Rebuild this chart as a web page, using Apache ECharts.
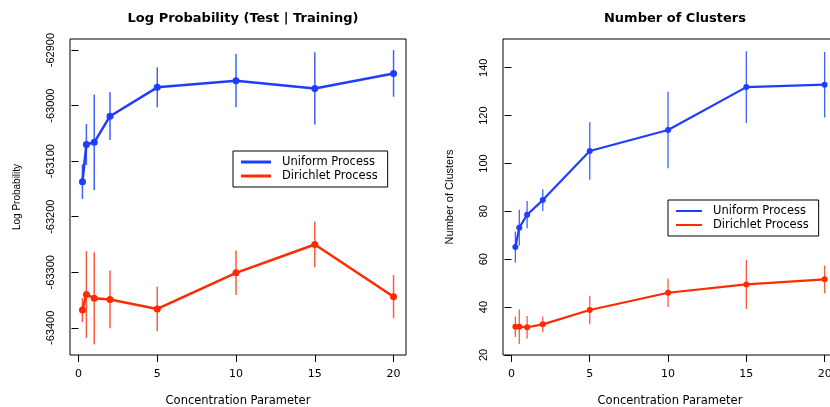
<!DOCTYPE html>
<html><head><meta charset="utf-8">
<script src="https://cdn.jsdelivr.net/npm/echarts@6/dist/echarts.min.js"></script>
<style>html,body{margin:0;padding:0;background:#fff}#c{width:830px;height:407px}</style>
</head><body><div id="c"></div>
<script>
var xs = [0.25, 0.5, 1, 2, 5, 10, 15, 20];
var xTicks = [0, 5, 10, 15, 20];
// Left panel: log probability (test | training)
var lpUniform = [-63137, -63070, -63066, -63019, -62967, -62955, -62969, -62942];
var lpUniformErr = [31, 37, 86, 43, 36, 48, 65, 42];
var lpDirichlet = [-63368, -63340, -63347, -63349, -63366, -63301, -63250, -63344];
var lpDirichletErr = [22, 78, 83, 52, 40, 40, 41, 39];
var lpTicks = [-63400, -63300, -63200, -63100, -63000, -62900];
// Right panel: number of clusters
var ncUniform = [65.1, 73.2, 78.6, 84.7, 105.2, 114.0, 131.9, 132.9];
var ncUniformErr = [6.5, 7.5, 5.7, 4.5, 12, 16, 15, 13.7];
var ncDirichlet = [31.8, 31.8, 31.6, 32.8, 38.8, 46.0, 49.5, 51.6];
var ncDirichletErr = [4.3, 7.2, 4.7, 3.3, 6, 6, 10.3, 5.8];
var ncTicks = [20, 40, 60, 80, 100, 120, 140];

var BLUE = '#1f3dff', BLUE_E = '#4060ff', RED = '#ff2a00', RED_E = '#ff5a40';
var FONT = 'Liberation Sans, Arial, sans-serif';
var WIDE = 'DejaVu Sans, Liberation Sans, sans-serif';

function pts(v){ return xs.map(function(x,i){ return [x, v[i]]; }); }
function errData(v, e){ return xs.map(function(x,i){ return [x, v[i]-e[i], v[i]+e[i]]; }); }
function errSeries(v, e, color, gi, w){
  return {
    type: 'custom', xAxisIndex: gi, yAxisIndex: gi, silent: true, z: 1,
    data: errData(v, e),
    renderItem: function(params, api){
      var a = api.coord([api.value(0), api.value(1)]);
      var b = api.coord([api.value(0), api.value(2)]);
      return { type: 'line', shape: {x1:a[0], y1:a[1], x2:b[0], y2:b[1]},
               style: { stroke: color, lineWidth: w } };
    }
  };
}
function lineSeries(name, v, color, gi, w, s){
  return { name: name, type: 'line', xAxisIndex: gi, yAxisIndex: gi, data: pts(v),
    symbol: 'circle', symbolSize: s, showSymbol: true, z: 3, animation: false,
    lineStyle: { color: color, width: w }, itemStyle: { color: color } };
}
function xAxis(gi){
  return { gridIndex: gi, type: 'value', min: -0.54, max: 20.79,
    name: 'Concentration Parameter', nameLocation: 'middle', nameGap: 40,
    nameTextStyle: { fontFamily: WIDE, fontSize: 11.5, color: '#000' },
    axisLine: { show: false }, splitLine: { show: false },
    axisTick: { show: true, inside: false, length: 7, customValues: xTicks, lineStyle: { color: '#000' } },
    axisLabel: { customValues: xTicks, margin: 14, fontFamily: WIDE, fontSize: 11, color: '#000',
      formatter: function(v){ return String(v); } } };
}
function yAxis(gi, min, max, ticks, name, nameGap, nameSize){
  return { gridIndex: gi, type: 'value', min: min, max: max,
    name: name, nameLocation: 'middle', nameGap: nameGap, nameRotate: 90,
    nameTextStyle: { fontFamily: FONT, fontSize: nameSize, color: '#000' },
    axisLine: { show: false }, splitLine: { show: false },
    axisTick: { show: true, inside: false, length: 7, customValues: ticks, lineStyle: { color: '#000' } },
    axisLabel: { customValues: ticks, rotate: 90, margin: 14, fontFamily: FONT, fontSize: 11, color: '#000',
      formatter: function(v){ return String(v); } } };
}

var chart = echarts.init(document.getElementById('c'), null, { renderer: 'canvas' });
chart.setOption({
  animation: false,
  backgroundColor: '#fff',
  title: [
    { text: 'Log Probability (Test | Training)', left: 238, top: 7, textAlign: 'center',
      textStyle: { fontFamily: WIDE, fontSize: 13, fontWeight: 'bold', color: '#000' } },
    { text: 'Number of Clusters', left: 670, top: 7, textAlign: 'center',
      textStyle: { fontFamily: WIDE, fontSize: 13, fontWeight: 'bold', color: '#000' } }
  ],
  grid: [
    { left: 70, right: 424, top: 39, bottom: 52, show: true, borderColor: '#000', borderWidth: 1,
      backgroundColor: 'transparent', outerBoundsMode: 'none', containLabel: false },
    { left: 503, right: -7, top: 39, bottom: 52, show: true, borderColor: '#000', borderWidth: 1,
      backgroundColor: 'transparent', outerBoundsMode: 'none', containLabel: false }
  ],
  xAxis: [ xAxis(0), xAxis(1) ],
  yAxis: [
    yAxis(0, -63449, -62880, lpTicks, 'Log Probability', 48, 10),
    yAxis(1, 20, 152, ncTicks, 'Number of Clusters', 48, 11)
  ],
  legend: [
    { data: ['Uniform Process', 'Dirichlet Process'], orient: 'vertical', left: 233, top: 151,
      padding: [5, 10, 5, 8], itemGap: 2, itemWidth: 30, itemHeight: 3, icon: 'rect',
      borderColor: '#000', borderWidth: 1, backgroundColor: '#fff', selectedMode: false,
      textStyle: { fontFamily: WIDE, fontSize: 11.5, color: '#000', padding: [0,0,0,6] } },
    { data: ['Uniform Process', 'Dirichlet Process'], orient: 'vertical', left: 668, top: 200,
      padding: [5, 10, 5, 8], itemGap: 2, itemWidth: 26, itemHeight: 2, icon: 'rect',
      borderColor: '#000', borderWidth: 1, backgroundColor: '#fff', selectedMode: false,
      textStyle: { fontFamily: WIDE, fontSize: 11.5, color: '#000', padding: [0,0,0,6] } }
  ],
  series: [
    errSeries(lpUniform, lpUniformErr, BLUE_E, 0, 1.5),
    errSeries(lpDirichlet, lpDirichletErr, RED_E, 0, 1.5),
    lineSeries('Uniform Process', lpUniform, BLUE, 0, 2.5, 7),
    lineSeries('Dirichlet Process', lpDirichlet, RED, 0, 2.5, 7),
    errSeries(ncUniform, ncUniformErr, BLUE_E, 1, 1.3),
    errSeries(ncDirichlet, ncDirichletErr, RED_E, 1, 1.3),
    lineSeries('Uniform Process', ncUniform, BLUE, 1, 2.2, 6),
    lineSeries('Dirichlet Process', ncDirichlet, RED, 1, 2.2, 6)
  ]
});
</script></body></html>
